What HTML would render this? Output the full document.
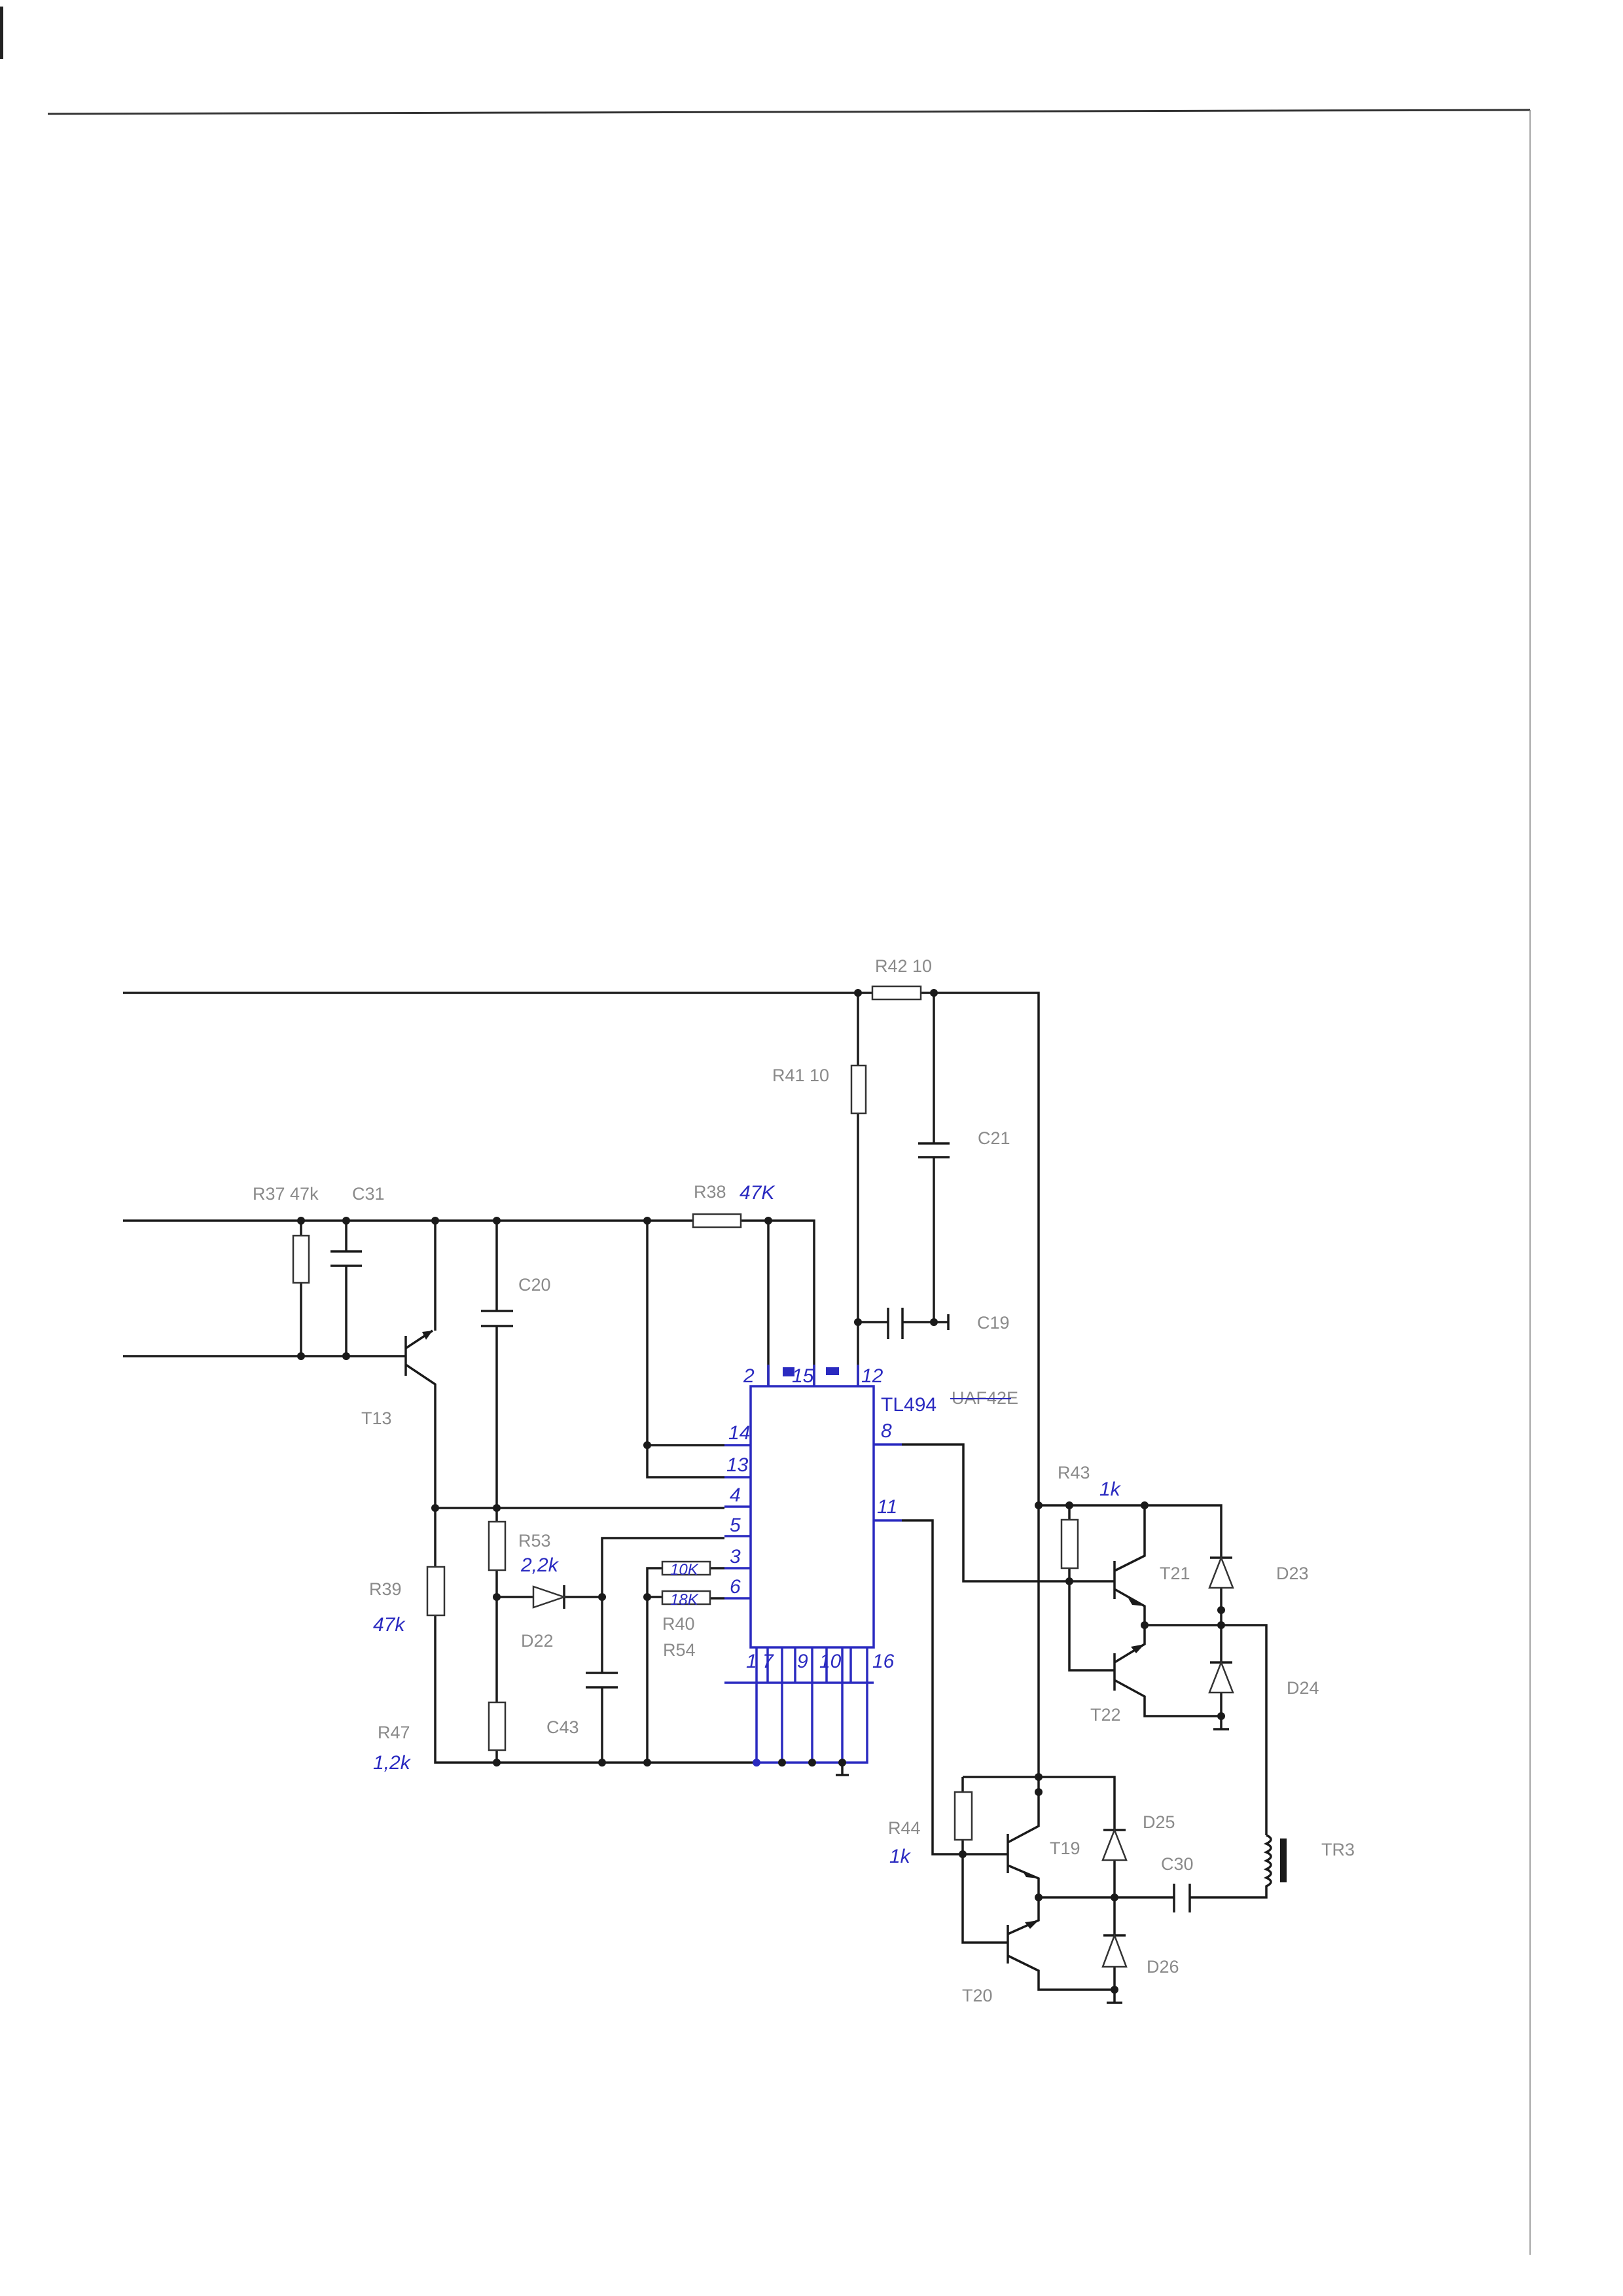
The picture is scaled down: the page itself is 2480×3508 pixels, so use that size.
<!DOCTYPE html>
<html><head><meta charset="utf-8"><style>
html,body{margin:0;padding:0;background:#fff}
svg{display:block}
.w{stroke:#1a1a1a;stroke-width:3.5;fill:none}
.b{stroke:#2a2ac0;stroke-width:3.5;fill:none}
.r{stroke:#333;stroke-width:2.5;fill:#fff}
.t{font-family:"Liberation Sans",sans-serif;font-size:27px;fill:#8a8a8a}
.h{font-family:"Liberation Sans",sans-serif;font-size:30px;fill:#2a2ac0;font-style:italic}
.d{fill:#1a1a1a}
</style></head><body>
<svg width="2480" height="3508" viewBox="0 0 2480 3508" xmlns="http://www.w3.org/2000/svg">
<rect x="0" y="0" width="2480" height="3508" fill="#fff"/>
<rect x="0" y="10" width="5" height="80" fill="#222"/>
<!-- frame -->
<path d="M73 174 L2338 168" stroke="#333" stroke-width="3" fill="none"/>
<path d="M2338 168 L2338 3445" stroke="#888" stroke-width="1.5" fill="none"/>

<!-- top wire -->
<path class="w" d="M188 1517 H1333 M1407 1517 H1587 V2715"/>
<rect class="r" x="1333" y="1507" width="74" height="20"/>
<!-- R41 -->
<path class="w" d="M1311 1517 V1628 M1311 1701 V2118"/>
<rect class="r" x="1301" y="1628" width="22" height="73"/>
<!-- C21 -->
<path class="w" d="M1427 1517 V1747 M1427 1768 V2020"/>
<path class="w" d="M1403 1747 H1451 M1403 1768 H1451"/>
<!-- C19 -->
<path class="w" d="M1311 2020 H1357 M1379 2020 H1449 M1357 1998 V2046 M1379 1998 V2046 M1449 2008 V2032"/>

<!-- mid wire -->
<path class="w" d="M188 1865 H1059 M1132 1865 H1244 V2118 M1174 1865 V2118"/>
<rect class="r" x="1059" y="1855" width="73" height="20"/>
<!-- R37 / C31 -->
<path class="w" d="M460 1865 V1888 M460 1960 V2072 M529 1865 V1912 M529 1934 V2072 M505 1912 H553 M505 1934 H553"/>
<rect class="r" x="448" y="1888" width="24" height="72"/>
<!-- lower wire -->
<path class="w" d="M188 2072 H620"/>
<!-- T13 -->
<path class="w" d="M620 2041 V2102 M620 2060 L661 2033 M665 2033 V1865 M620 2085 L665 2115 V2304"/>
<polygon class="d" points="661,2033 645,2035 651,2047"/>
<!-- C20 -->
<path class="w" d="M759 1865 V2003 M759 2026 V2304 M735 2003 H784 M735 2026 H784"/>
<!-- row 2304 -->
<path class="w" d="M665 2304 H1107"/>
<!-- 14/13 -->
<path class="w" d="M989 1865 V2257 H1107 M989 2208 H1107"/>
<!-- R39 -->
<path class="w" d="M665 2304 V2394 M665 2468 V2693 H1156"/>
<rect class="r" x="653" y="2394" width="26" height="74"/>
<!-- R53, R47 -->
<path class="w" d="M759 2304 V2325 M759 2399 V2601 M759 2674 V2693"/>
<rect class="r" x="747" y="2325" width="25" height="74"/>
<rect class="r" x="747" y="2601" width="25" height="73"/>
<!-- D22 -->
<path class="w" d="M759 2440 H920 M862 2422 V2458"/>
<polygon points="815,2424 862,2440 815,2456" fill="#fff" stroke="#333" stroke-width="2.5"/>
<!-- pin5 / C43 -->
<path class="w" d="M1107 2350 H920 V2556 M920 2578 V2693 M895 2556 H944 M895 2578 H944"/>
<!-- R40/R54 -->
<path class="w" d="M989 2693 V2396 H1012 M1085 2396 H1107 M989 2440 H1012 M1085 2442 H1107"/>
<rect class="r" x="1012" y="2386" width="73" height="20"/>
<rect class="r" x="1012" y="2431" width="73" height="20"/>
<!-- IC -->
<rect class="b" x="1147" y="2118" width="188" height="399"/>
<path class="b" d="M1107 2208 H1147 M1107 2257 H1147 M1107 2302 H1147 M1107 2347 H1147 M1107 2396 H1147 M1107 2442 H1147"/>
<path class="b" d="M1174 2118 V2085 M1244 2118 V2085 M1311 2118 V2085 M1335 2207 H1378 M1335 2323 H1378"/>
<path class="b" d="M1156 2517 V2693 M1195 2517 V2693 M1241 2517 V2693 M1287 2517 V2693 M1325 2517 V2693 H1156"/>
<path class="w" d="M1287 2693 V2712 M1277 2712 H1297"/>
<!-- pin 8 / 11 wires -->
<path class="w" d="M1378 2207 H1472 V2416 H1703 M1378 2323 H1425 V2833 H1540"/>
<!-- R43 row -->
<path class="w" d="M1587 2300 H1866 V2380 M1634 2300 V2322 M1634 2396 V2552 H1703"/>
<rect class="r" x="1622" y="2322" width="25" height="74"/>
<!-- T21 -->
<path class="w" d="M1703 2385 V2443 M1703 2400 L1749 2377 V2300 M1703 2428 L1749 2454 V2512 L1703 2540"/>
<polygon class="d" points="1749,2454 1730,2452 1724,2442"/>
<!-- T22 -->
<path class="w" d="M1703 2526 V2583 M1703 2567 L1749 2592 V2622 H1866"/>
<polygon class="d" points="1749,2512 1736,2526 1728,2516"/>
<!-- D23/D24 -->
<path class="w" d="M1866 2380 V2622 M1849 2380 H1883 M1849 2540 H1883"/>
<polygon points="1866,2380 1848,2426 1884,2426" fill="#fff" stroke="#333" stroke-width="2.5"/>
<polygon points="1866,2540 1848,2586 1884,2586" fill="#fff" stroke="#333" stroke-width="2.5"/>
<path class="w" d="M1866 2622 V2642 M1854 2642 H1878"/>
<path class="w" d="M1749 2483 H1935 V2804"/>
<!-- TR3 -->
<path class="w" d="M1935 2804 q14 6 0 13 q14 6 0 13 q14 6 0 13 q14 6 0 13 q14 6 0 13 q14 6 0 13 V2899 H1818"/>
<rect x="1956" y="2809" width="10" height="67" fill="#1a1a1a"/>
<!-- T19 block -->
<path class="w" d="M1471 2715 H1703 V2796 M1471 2715 V2738 M1471 2811 V2968 H1540"/>
<rect class="r" x="1459" y="2738" width="26" height="73"/>
<path class="w" d="M1540 2802 V2862 M1540 2815 L1587 2790 V2715 M1540 2850 L1587 2870 V2934 L1540 2955"/>
<polygon class="d" points="1587,2870 1568,2868 1562,2858"/>
<polygon class="d" points="1587,2934 1574,2947 1566,2937"/>
<path class="w" d="M1540 2941 V3000 M1540 2988 L1587 3011 V3040 H1703"/>
<path class="w" d="M1587 2899 H1794 M1794 2878 V2922 M1818 2878 V2922 M1703 2796 V3040 M1686 2796 H1720 M1686 2957 H1720"/>
<polygon points="1703,2796 1685,2842 1721,2842" fill="#fff" stroke="#333" stroke-width="2.5"/>
<polygon points="1703,2957 1685,3005 1721,3005" fill="#fff" stroke="#333" stroke-width="2.5"/>
<path class="w" d="M1703 3040 V3060 M1691 3060 H1715"/>

<!-- junction dots -->
<g class="d">
<circle cx="1311" cy="1517" r="6"/><circle cx="1427" cy="1517" r="6"/>
<circle cx="1311" cy="2020" r="6"/><circle cx="1427" cy="2020" r="6"/>
<circle cx="460" cy="1865" r="6"/><circle cx="529" cy="1865" r="6"/><circle cx="665" cy="1865" r="6"/><circle cx="759" cy="1865" r="6"/><circle cx="989" cy="1865" r="6"/><circle cx="1174" cy="1865" r="6"/>
<circle cx="460" cy="2072" r="6"/><circle cx="529" cy="2072" r="6"/>
<circle cx="989" cy="2208" r="6"/><circle cx="665" cy="2304" r="6"/><circle cx="759" cy="2304" r="6"/>
<circle cx="759" cy="2440" r="6"/><circle cx="920" cy="2440" r="6"/><circle cx="989" cy="2440" r="6"/>
<circle cx="759" cy="2693" r="6"/><circle cx="920" cy="2693" r="6"/><circle cx="989" cy="2693" r="6"/>
<circle cx="1156" cy="2693" r="6" fill="#2a2ac0"/><circle cx="1195" cy="2693" r="6"/><circle cx="1241" cy="2693" r="6"/><circle cx="1287" cy="2693" r="6"/>
<circle cx="1587" cy="2300" r="6"/><circle cx="1634" cy="2300" r="6"/><circle cx="1749" cy="2300" r="6"/>
<circle cx="1634" cy="2416" r="6"/><circle cx="1749" cy="2483" r="6"/><circle cx="1866" cy="2460" r="6"/><circle cx="1866" cy="2483" r="6"/><circle cx="1866" cy="2622" r="6"/>
<circle cx="1587" cy="2715" r="6"/><circle cx="1587" cy="2738" r="6"/><circle cx="1471" cy="2833" r="6"/>
<circle cx="1587" cy="2899" r="6"/><circle cx="1703" cy="2899" r="6"/><circle cx="1703" cy="3040" r="6"/>
</g>

<!-- gray labels -->
<g class="t">
<text x="1337" y="1485">R42 10</text>
<text x="1180" y="1652">R41 10</text>
<text x="1494" y="1748">C21</text>
<text x="1493" y="2030">C19</text>
<text x="386" y="1833">R37 47k</text>
<text x="538" y="1833">C31</text>
<text x="792" y="1972">C20</text>
<text x="1060" y="1830">R38</text>
<text x="552" y="2176">T13</text>
<text x="792" y="2363">R53</text>
<text x="564" y="2437">R39</text>
<text x="796" y="2516">D22</text>
<text x="1012" y="2490">R40</text>
<text x="1013" y="2530">R54</text>
<text x="835" y="2648">C43</text>
<text x="577" y="2656">R47</text>
<text x="1454" y="2145">UAF42E</text>
<text x="1616" y="2259">R43</text>
<text x="1772" y="2413">T21</text>
<text x="1950" y="2413">D23</text>
<text x="1666" y="2629">T22</text>
<text x="1966" y="2588">D24</text>
<text x="1746" y="2793">D25</text>
<text x="1604" y="2833">T19</text>
<text x="1774" y="2857">C30</text>
<text x="2019" y="2835">TR3</text>
<text x="1357" y="2802">R44</text>
<text x="1752" y="3014">D26</text>
<text x="1470" y="3058">T20</text>
</g>
<path d="M1452 2137 H1545" stroke="#2a2ac0" stroke-width="2"/>
<!-- blue labels -->
<g class="h">
<text x="1130" y="1832">47K</text>
<text x="796" y="2401">2,2k</text>
<text x="570" y="2492">47k</text>
<text x="570" y="2703">1,2k</text>
<text x="1024" y="2406" font-size="24">10K</text>
<text x="1024" y="2452" font-size="24">18K</text>
<text x="1346" y="2156" font-style="normal">TL494</text>
<text x="1680" y="2285">1k</text>
<text x="1359" y="2846">1k</text>
<text x="1136" y="2112">2</text>
<text x="1210" y="2112">15</text>
<text x="1316" y="2112">12</text>
<text x="1113" y="2199">14</text>
<text x="1110" y="2248">13</text>
<text x="1115" y="2294">4</text>
<text x="1115" y="2340">5</text>
<text x="1115" y="2388">3</text>
<text x="1115" y="2434">6</text>
<text x="1346" y="2196">8</text>
<text x="1340" y="2312">11</text>
<text x="1140" y="2548">1</text>
<text x="1165" y="2548">7</text>
<text x="1218" y="2548">9</text>
<text x="1252" y="2548">10</text>
<text x="1333" y="2548">16</text>
</g>
<rect x="1196" y="2089" width="18" height="14" fill="#2a2ac0"/>
<rect x="1262" y="2089" width="20" height="12" fill="#2a2ac0"/>
<path class="b" stroke-width="2" d="M1107 2571 H1335 M1173 2517 V2571 M1215 2517 V2571 M1263 2517 V2571 M1300 2517 V2571"/>
</svg>
</body></html>
